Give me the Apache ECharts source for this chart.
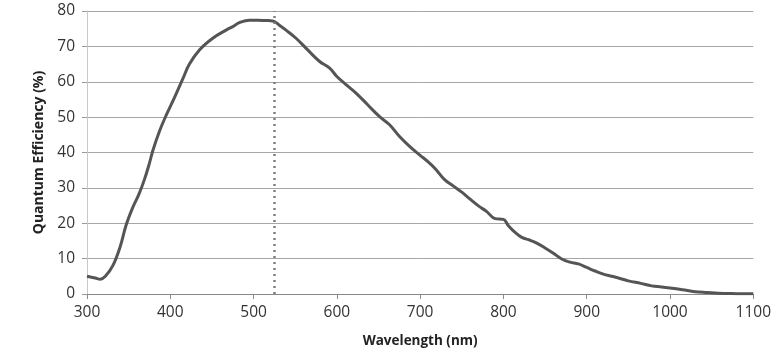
<!DOCTYPE html>
<html><head><meta charset="utf-8">
<script src="https://cdn.jsdelivr.net/npm/echarts@6/dist/echarts.min.js"></script>
<style>html,body{margin:0;padding:0;background:#fff}#c{width:774px;height:353px}</style>
</head><body><div id="c"></div>
<script>
const wavelengths = [300,310,316,322,331,340,347,355,362,369,375,379,387,395,405,415,423,435,451,467,475,483,495,505,515,523,531,539,551,565,579,591,600,611,623,637,651,663,675,687,699,710,719,729,740,750,760,770,780,790,800,806,814,822,832,840,850,860,870,880,890,900,910,920,930,940,950,965,978,990,1000,1015,1030,1045,1058,1080,1100];
const efficiency = [5.0,4.5,4.2,5.0,8,13.5,19.5,24.5,28,32.4,37,40.5,46,50.5,55.5,60.8,65,69,72.3,74.6,75.6,76.7,77.4,77.4,77.3,77.2,76,74.6,72.3,69,65.8,63.9,61.5,59.2,56.8,53.5,50.2,47.9,44.6,41.8,39.4,37.3,35.2,32.4,30.5,28.8,26.8,24.9,23.3,21.3,21.1,19.3,17.4,16.0,15.2,14.4,13,11.5,9.9,9.0,8.5,7.5,6.5,5.6,5.0,4.4,3.7,3,2.3,2.0,1.7,1.2,0.65,0.4,0.2,0.1,0.05];
const markerWavelength = 525;
const xTicks = {min:300, max:1100, interval:100};
const yTicks = {min:0, max:80, interval:10};

const chart = echarts.init(document.getElementById('c'), null, {renderer:'canvas'});
const font = '"Open Sans", "Noto Sans", sans-serif';
chart.setOption({
  animation:false,
  grid:{left:87, right:19, top:11, bottom:58},
  xAxis:{type:'value', min:xTicks.min, max:xTicks.max, interval:xTicks.interval,
    name:'Wavelength (nm)', nameLocation:'middle', nameGap:40,
    nameTextStyle:{fontFamily:font, fontWeight:'bold', fontSize:13.5, color:'#222'},
    axisLine:{show:true, lineStyle:{color:'#8a8a8a', width:1}},
    axisTick:{show:true, length:5, lineStyle:{color:'#8a8a8a'}},
    axisLabel:{fontFamily:font, fontSize:15.5, color:'#333', margin:11, formatter:v=>String(v)},
    splitLine:{show:false}},
  yAxis:{type:'value', min:yTicks.min, max:yTicks.max, interval:yTicks.interval,
    name:'Quantum Efficiency (%)', nameLocation:'middle', nameGap:38,
    nameTextStyle:{fontFamily:font, fontWeight:'bold', fontSize:14, color:'#222'},
    axisLine:{show:true, lineStyle:{color:'#c8c8c8', width:1}},
    axisTick:{show:true, length:5, lineStyle:{color:'#9a9a9a'}},
    axisLabel:{fontFamily:font, fontSize:15.5, color:'#333', margin:12, formatter:v=>String(v)},
    splitLine:{show:true, lineStyle:{color:'#a6a6a6', width:1}}},
  series:[{type:'line', data:wavelengths.map((w,i)=>[w,efficiency[i]]),
    showSymbol:false, smooth:0.4,
    lineStyle:{color:'#555555', width:3},
    markLine:{silent:true, symbol:'none', label:{show:false},
      lineStyle:{color:'#808080', type:[2,4], width:2.5},
      data:[{xAxis:markerWavelength}]}}]
});
</script></body></html>
